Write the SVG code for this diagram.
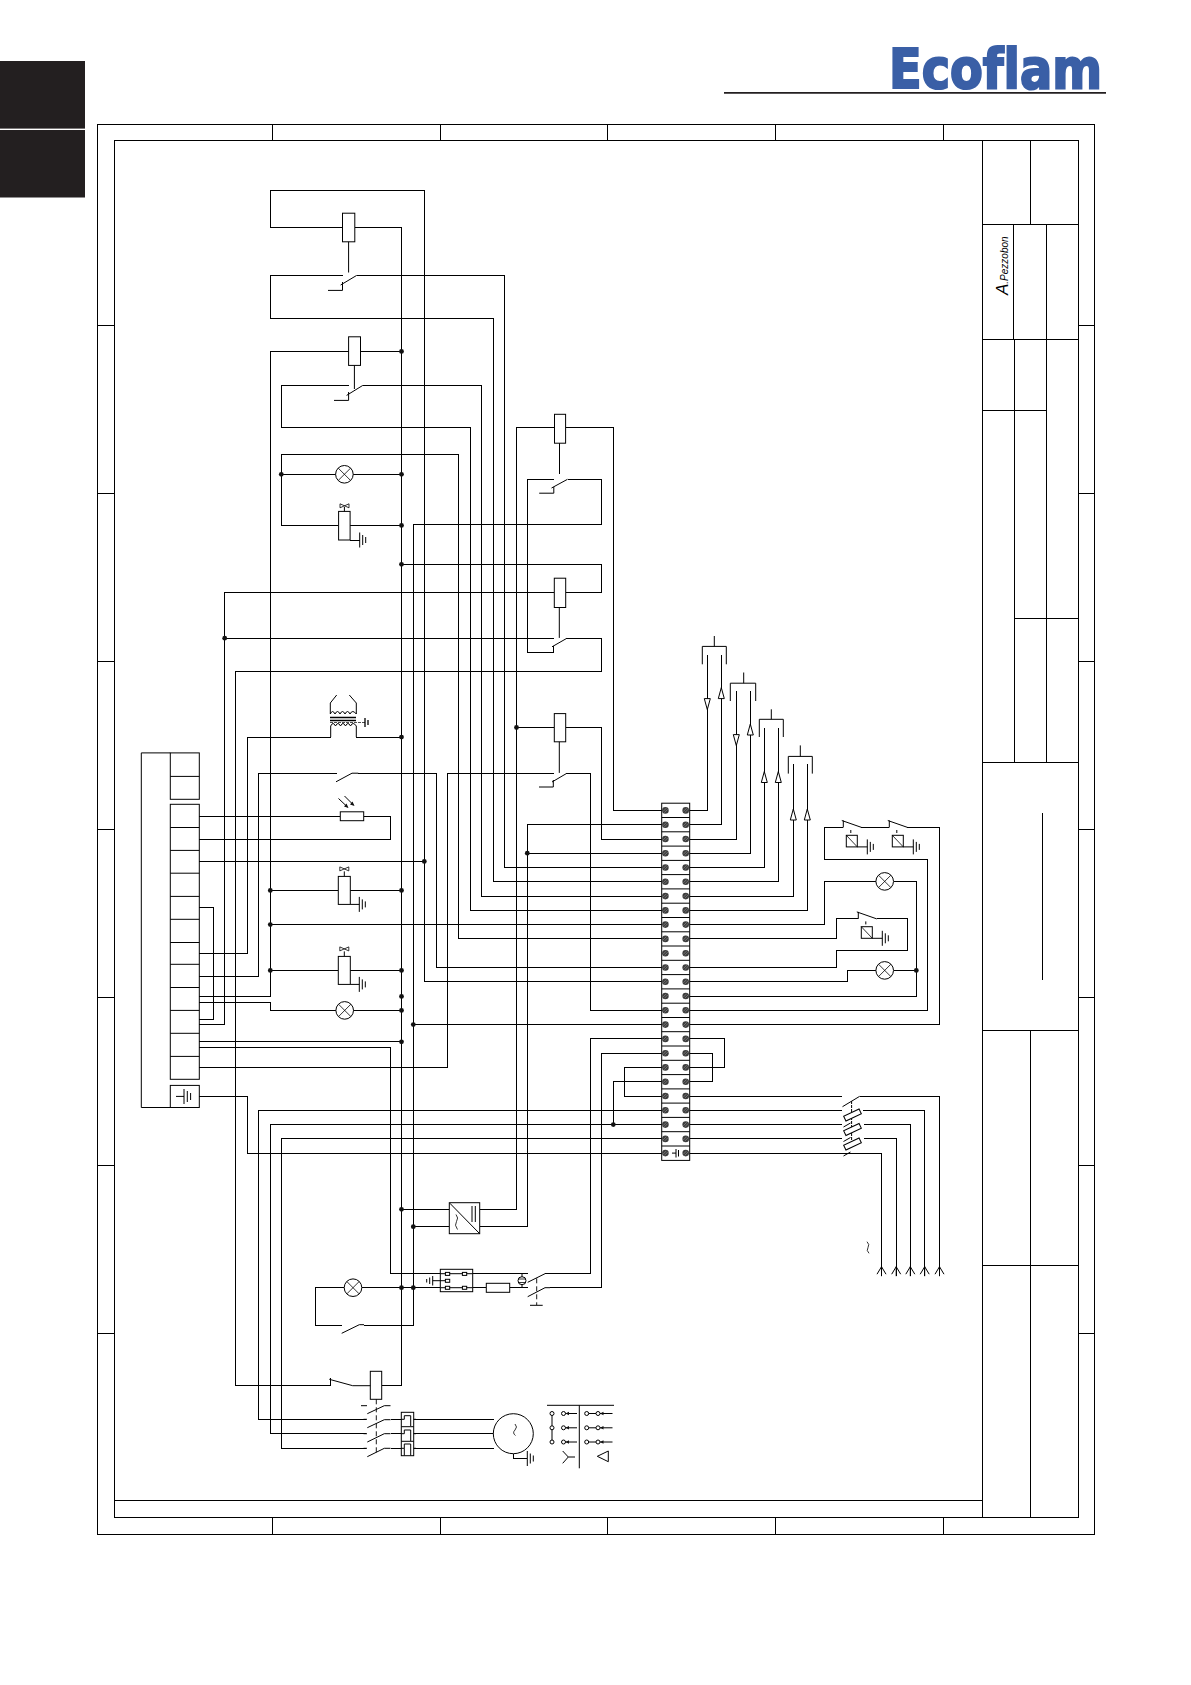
<svg xmlns="http://www.w3.org/2000/svg" xmlns:xlink="http://www.w3.org/1999/xlink" width="1191" height="1685" viewBox="0 0 1191 1685">
<style>
text{font-family:"Liberation Sans",Arial,sans-serif}
.l,.w,.s{fill:none;stroke:#000;stroke-width:1}
.w{stroke-width:1;shape-rendering:crispEdges}
.f{stroke:#000;stroke-width:1;fill:none;shape-rendering:crispEdges}
.t{stroke:#000;stroke-width:.8;fill:none}
.b{fill:#fff;stroke:#000;stroke-width:1}
.d{fill:#111;stroke:none}
.dash{fill:none;stroke:#000;stroke-width:.9;stroke-dasharray:5 3}
</style>
<defs>
<circle id="dot" class="d" r="2.4"/>
<g id="lamp"><circle class="b" r="8.8"/><path class="t" d="M-6.200-6.200 6.200 6.200M-6.200 6.200 6.200-6.200"/></g>
<g id="gnd"><path class="s" d="M0-7.500V7.500M3-5V5M6-3V3"/></g>
<g id="screw"><circle r="3.300" fill="#3c3c3c"/><path d="M-2.300 1 1-2.300M-1 2.300 2.300-1" stroke="#aaa" stroke-width=".5"/></g>
<g id="valve"><path class="s" d="M0 0V-5"/><path class="t" d="M-4.500-9.500 4.500-5.500V-9.500L-4.500-5.500Z"/><rect class="b" x="-6" y="0" width="12" height="28"/><path class="s" d="M6 28H15"/><use xlink:href="#gnd" x="15" y="28"/></g>
<g id="coilx"><rect class="b" width="11" height="11.600"/><path class="t" d="M0 0 11 11.600"/></g>
<g id="sw"><path class="s" d="M0 0V-7M-1.500-7 18.500 0"/><path class="s" d="M7.500 2.500V7.500" stroke-dasharray="3 2"/><use xlink:href="#coilx" x="3" y="7.800"/><path class="s" d="M14 19.400H24"/><use xlink:href="#gnd" x="24" y="19.400"/></g>
<path id="ch" class="s" d="M-4.500 7.500 0 0 4.500 7.500M0 0V9.500"/>
<path id="tri" class="b" d="M-3 0H3L0-11Z"/>
<g id="fuse"><path class="s" d="M-9 12-2 8"/><rect class="b" x="-8.500" y="-2.700" width="17" height="5.400" transform="rotate(-25)"/></g>
</defs>

<g id="tabs"><rect x="0" y="61" width="85" height="67.600" fill="#231f20"/><rect x="0" y="130" width="85" height="67.500" fill="#231f20"/></g>
<g id="logo"><text x="889" y="88" font-size="55" font-weight="700" fill="#3a5fa6" stroke="#3a5fa6" stroke-width="2.200" textLength="213" lengthAdjust="spacingAndGlyphs" style="font-family:'DejaVu Sans','Liberation Sans',sans-serif;font-variant-ligatures:none">Ecoflam</text><path d="M724 92.900H1106" stroke="#231f20" stroke-width="1.600" fill="none"/></g>

<g id="frame" class="f">
<rect x="97.300" y="124.300" width="997" height="1410"/>
<rect x="114.400" y="140.400" width="964" height="1377"/>
<path d="M272.500 124V140.500M440 124V140.500M607.500 124V140.500M775.300 124V140.500M943.300 124V140.500M272.500 1517.500V1534.500M440 1517.500V1534.500M607.500 1517.500V1534.500M775.300 1517.500V1534.500M943.300 1517.500V1534.500"/>
<path d="M97 325.400H114.500M97 493.200H114.500M97 661H114.500M97 829H114.500M97 997H114.500M97 1165H114.500M97 1333H114.500M1078 325.400H1094.500M1078 493.200H1094.500M1078 661H1094.500M1078 829H1094.500M1078 997H1094.500M1078 1165H1094.500M1078 1333H1094.500"/>
<path d="M114.400 1500.300H982.500"/>
</g>
<g id="title-block" class="f">
<path d="M982.500 140.400V1517.500M1030.400 140.400V224.300M982.500 224.300H1078.300M1013.700 224.300V339.300M1046.300 224.300V762.300M982.500 339.300H1078.300M1014.300 339.300V762.300M982.500 410.400H1046.300M1014.300 618.300H1078.300M982.500 762.300H1078.300M1042.300 812.700V979.700M982.500 1030.300H1078.300M1030.400 1030.300V1517.500M982.500 1265.300H1078.300"/>
</g>
<text id="signature" transform="translate(1008 295) rotate(-90)" font-style="italic" fill="#000"><tspan font-size="17">A</tspan><tspan font-size="10">.Pezzobon</tspan></text>

<g id="connectors" class="w">
<path d="M342.500 227.500H270.600V190.400H424.300V981.800H665"/>
<path d="M354.800 227.500H401.500V1385.300H381.700"/>
<path d="M342.500 275.400H270.600V318.200H493.500V881.800H665"/>
<path d="M356.700 275.400H504.500V867.500H665"/>
<path d="M348.600 351.400H270.300V996.400H199.300"/>
<path d="M360.500 351.400H401.500"/>
<path d="M348.600 385.400H281.300V427.500H470.500V910.400H665"/>
<path d="M362.800 385.400H481.500V896.100H665"/>
<path d="M665 938.900H458.600V454.300H281.300V525.400H338.400"/>
<path d="M281.300 474.300H335.600M353.200 474.300H401.500M350.400 525.400H401.500"/>
<path d="M554.500 427.900H516.500V1209.300H479.700"/>
<path d="M565.600 427.900H613.300V810.400H665"/>
<path d="M553.800 479.300H527.400V652.100H553.300V645.700"/>
<path d="M567.500 479.300H601.500V524.300H413.300V1325.300H364"/>
<path d="M413.300 1024.600H665"/>
<path d="M554.300 592.500H224.700V1024.300H199.300"/>
<path d="M565.700 592.500H601.300V564.300H401.500"/>
<path d="M224.700 638.200H554.300"/>
<path d="M567 638.200H601V671.400H235.700V1385.300H330.300V1378.300"/>
<path d="M554.300 727.500H516.500"/>
<path d="M565.700 727.500H601.700V839H665"/>
<path d="M199.300 1067.100H447.300V773.200H553.500"/>
<path d="M567 773.200H590.700V1010.300H665"/>
<path d="M665 824.700H527.300V1226.700H479.700M527.300 853.200H665"/>
<path d="M199.300 976.400H258.300V773.200H336.700"/>
<path d="M358.300 773.200H436.300V967.500H665"/>
<path d="M199.300 953.200H247.300V737.100H330.700M356.300 737.100H401.500"/>
<path d="M199.300 816.400H340.300M363.700 816.400H390.300V839.300H199.300"/>
<path d="M199.300 861.400H424.300"/>
<path d="M270.300 890.400H338.300M350.300 890.400H401.500M270.300 924.600H665M270.300 970.400H338.300M350.300 970.400H401.500"/>
<path d="M199.300 1002.500H270.300V1010.400H336M353.400 1010.400H401.500"/>
<path d="M199.300 1041.800H401.500"/>
<path d="M199.300 1047.500H390.700V1273.700H528.300"/>
<path d="M199.300 907.500H213.300V1019.300H199.300"/>
<path d="M199.300 1096.400H247.700V1153.100H665"/>
<path d="M665 1110.300H258.700V1419.300H366"/>
<path d="M665 1124.600H270.300V1433.700H366"/>
<path d="M665 1138.900H281.700V1448.300H366"/>
<path d="M665 1038.900H590.700V1273.700H545"/>
<path d="M665 1053.200H601.700V1287.700H550"/>
<path d="M665 1067.400H624.300V1096H665"/>
<path d="M665 1081.700H613.300V1124.600"/>
<path d="M449.300 1209.300H401.500M449.300 1226.700H413.300"/>
<path d="M440.300 1287.700H362M344.200 1287.700H315.700V1325.300H341.700"/>
<path d="M472.700 1287.700H486.300M509.700 1287.700H528.300"/>
<path d="M685.700 810.400H707.300V655M685.700 824.700H721.300V655M685.700 839H736.300V691.400M685.700 853.200H750.300V691.400M685.700 867.500H764.300V727.900M685.700 881.800H778.300V727.900M685.700 896.100H793.300V764.300M685.700 910.400H807.300V764.300"/>
<path d="M685.700 924.600H824.300V881.400H876M893.500 881.400H916.300V996H685.700"/>
<path d="M685.700 938.900H836.300V918.900H858.300M876.700 918.900H907.300V950.400H836.300V967.500H685.700"/>
<path d="M685.700 981.800H847.300V970.400H876M893.500 970.400H916.300"/>
<path d="M685.700 1010.300H927.300V859.300H824.300V827.500H843.300M860.700 827.500H889.300M906.700 827.500H939.300V1024.600H685.700"/>
<path d="M685.700 1038.900H724.300V1067.400H685.700M685.700 1053.200H712.300V1081.700H685.700"/>
<path d="M685.700 1096H841.700M860 1096H939.500V1276M685.700 1110.300H841.700M863 1110.300H924.700V1276M685.700 1124.600H841.700M864 1124.600H910.300V1276M685.700 1138.900H841.700M864 1138.900H896.200V1276M685.700 1153.100H881.500V1276"/>
<path d="M390.500 1419.300H494M390.500 1433.700H494M390.500 1448.300H494"/>
<path d="M513.300 1453.700V1458.500H527.300"/>
<path d="M350.400 540H359.700"/>
</g>

<g id="junctions">
<use xlink:href="#dot" x="401.500" y="351.400"/><use xlink:href="#dot" x="401.500" y="474.300"/><use xlink:href="#dot" x="401.500" y="525.400"/><use xlink:href="#dot" x="401.500" y="564.300"/><use xlink:href="#dot" x="401.500" y="737.100"/><use xlink:href="#dot" x="401.500" y="890.400"/><use xlink:href="#dot" x="401.500" y="970.400"/><use xlink:href="#dot" x="401.500" y="996.400"/><use xlink:href="#dot" x="401.500" y="1010.400"/><use xlink:href="#dot" x="401.500" y="1041.800"/><use xlink:href="#dot" x="401.500" y="1209.300"/><use xlink:href="#dot" x="401.500" y="1287.700"/>
<use xlink:href="#dot" x="281.300" y="474.300"/><use xlink:href="#dot" x="224.700" y="638.200"/><use xlink:href="#dot" x="516.500" y="727.500"/><use xlink:href="#dot" x="527.300" y="853.200"/><use xlink:href="#dot" x="424.300" y="861.400"/>
<use xlink:href="#dot" x="270.300" y="890.400"/><use xlink:href="#dot" x="270.300" y="924.600"/><use xlink:href="#dot" x="270.300" y="970.400"/>
<use xlink:href="#dot" x="413.300" y="1024.600"/><use xlink:href="#dot" x="413.300" y="1226.700"/><use xlink:href="#dot" x="413.300" y="1287.700"/><use xlink:href="#dot" x="916.300" y="970.400"/><use xlink:href="#dot" x="613.300" y="1124.600"/>
</g>

<g id="relay-1"><rect class="b" x="342.500" y="213.200" width="12.300" height="28.600"/><path class="s" d="M348.600 241.800V272.500"/><path class="s" d="M328 290.400H342.500V282M340.600 285 356.700 275.400"/></g>
<g id="relay-2"><rect class="b" x="348.600" y="336.800" width="11.900" height="28.600"/><path class="s" d="M354.400 365.400V389"/><path class="s" d="M334 400.400H348.600V392M346.600 395.400 362.800 385.400"/></g>
<g id="lamp-1"><use xlink:href="#lamp" x="344.400" y="474.300"/></g>
<g id="valve-1"><rect class="b" x="338.600" y="511.400" width="11.500" height="28.600"/><path class="s" d="M344.400 511.400V507"/><path class="t" d="M340 503.800 349 507.800V503.800L340 507.800Z"/><use xlink:href="#gnd" x="359.700" y="540"/></g>
<g id="relay-3"><rect class="b" x="554.500" y="414.300" width="11.100" height="28.900"/><path class="s" d="M559.500 443.200V474"/><path class="s" d="M539.200 493.200H553.800V487M551.500 488 567.500 479.300"/></g>
<g id="relay-4"><rect class="b" x="554.300" y="578.200" width="11.400" height="29.300"/><path class="s" d="M559.300 607.500V637.900"/><path class="s" d="M552 646.800 567 638.200"/></g>
<g id="relay-5"><rect class="b" x="554.300" y="713.600" width="11.400" height="28.200"/><path class="s" d="M559.300 741.800V772.900"/><path class="s" d="M539 787H553.300V780M552 782 567 773.200"/></g>
<g id="transformer" class="s">
<path d="M336.700 695 330.300 703V714M349.300 695 356.300 703V714"/>
<path d="M330.300 714Q332.500 709 335 714Q337.500 709 340 714Q342.500 709 345 714Q347.500 709 350 714Q352.500 709 356.300 714"/>
<path d="M330 717.500H356M330 720.500H356" stroke-width="1.300"/>
<path d="M330 722.500H365" stroke-width=".7" stroke-dasharray="3 1"/>
<path d="M330.700 737V726Q333 721 335.500 726Q338 721 340.500 726Q343 721 345.500 726Q348 721 350.500 726Q353 721 356.300 726V737"/>
<path d="M365 718V727M368 720V725" stroke-width="1.300"/>
</g>
<g id="contact-6"><path class="s" d="M336 781.800 352 773.200H358.300"/></g>
<g id="photocell"><rect class="b" x="340.300" y="811.800" width="23.400" height="8.900"/><path class="s" d="M338.500 798.500 347.500 807M344.500 796 353.500 805"/><path class="d" d="M348.500 808 344 806.500 346.500 803.500ZM354.500 806 350 804.500 352.500 801.500Z"/></g>
<g id="valve-2"><use xlink:href="#valve" x="344.300" y="876.400"/></g>
<g id="valve-3"><use xlink:href="#valve" x="344.300" y="956.400"/></g>
<g id="lamp-2"><use xlink:href="#lamp" x="344.700" y="1010.400"/></g>
<g id="lamp-3"><use xlink:href="#lamp" x="353" y="1287.700"/></g>
<g id="contact-7"><path class="s" d="M341.700 1333.300 359.300 1324.700H364"/></g>

<g id="connector-panel" class="s">
<path d="M170.300 752.900H141.300V1107.500H170.300"/>
<rect x="170.300" y="752.900" width="29" height="46.400"/><path d="M170.300 776.400H199.300"/>
<rect x="170.300" y="804.300" width="29" height="275"/>
<path d="M170.300 827.500H199.300M170.300 850.400H199.300M170.300 873.200H199.300M170.300 896.400H199.300M170.300 919.300H199.300M170.300 942.500H199.300M170.300 964.300H199.300M170.300 987.500H199.300M170.300 1010.400H199.300M170.300 1033.300H199.300M170.300 1056.400H199.300"/>
<rect x="170.300" y="1085.400" width="29" height="22.100"/>
<path d="M176 1096.400H184M184 1089V1104M187.300 1091V1102M190.600 1093V1100"/>
</g>

<g id="terminal-block">
<rect class="b" x="661.700" y="803.200" width="28" height="357.200"/>
<path class="s" d="M661.700 817.500H689.700M661.700 831.800H689.700M661.700 846.100H689.700M661.700 860.400H689.700M661.700 874.600H689.700M661.700 888.900H689.700M661.700 903.200H689.700M661.700 917.500H689.700M661.700 946H689.700M661.700 960.300H689.700M661.700 974.600H689.700M661.700 988.900H689.700M661.700 1003.200H689.700M661.700 1017.500H689.700M661.700 1031.700H689.700M661.700 1046H689.700M661.700 1060.300H689.700M661.700 1074.600H689.700M661.700 1088.900H689.700M661.700 1103.100H689.700M661.700 1117.400H689.700M661.700 1131.700H689.700M661.700 1146H689.700"/>
<path class="s" stroke-width="1.600" d="M661.700 931.800H689.700"/>
<g id="screws">
<use xlink:href="#screw" x="665.400" y="810.400"/><use xlink:href="#screw" x="685.700" y="810.400"/><use xlink:href="#screw" x="665.400" y="824.700"/><use xlink:href="#screw" x="685.700" y="824.700"/><use xlink:href="#screw" x="665.400" y="839"/><use xlink:href="#screw" x="685.700" y="839"/><use xlink:href="#screw" x="665.400" y="853.200"/><use xlink:href="#screw" x="685.700" y="853.200"/><use xlink:href="#screw" x="665.400" y="867.500"/><use xlink:href="#screw" x="685.700" y="867.500"/><use xlink:href="#screw" x="665.400" y="881.800"/><use xlink:href="#screw" x="685.700" y="881.800"/><use xlink:href="#screw" x="665.400" y="896.100"/><use xlink:href="#screw" x="685.700" y="896.100"/><use xlink:href="#screw" x="665.400" y="910.400"/><use xlink:href="#screw" x="685.700" y="910.400"/><use xlink:href="#screw" x="665.400" y="924.600"/><use xlink:href="#screw" x="685.700" y="924.600"/><use xlink:href="#screw" x="665.400" y="938.900"/><use xlink:href="#screw" x="685.700" y="938.900"/><use xlink:href="#screw" x="665.400" y="953.200"/><use xlink:href="#screw" x="685.700" y="953.200"/><use xlink:href="#screw" x="665.400" y="967.500"/><use xlink:href="#screw" x="685.700" y="967.500"/><use xlink:href="#screw" x="665.400" y="981.800"/><use xlink:href="#screw" x="685.700" y="981.800"/><use xlink:href="#screw" x="665.400" y="996"/><use xlink:href="#screw" x="685.700" y="996"/><use xlink:href="#screw" x="665.400" y="1010.300"/><use xlink:href="#screw" x="685.700" y="1010.300"/><use xlink:href="#screw" x="665.400" y="1024.600"/><use xlink:href="#screw" x="685.700" y="1024.600"/><use xlink:href="#screw" x="665.400" y="1038.900"/><use xlink:href="#screw" x="685.700" y="1038.900"/><use xlink:href="#screw" x="665.400" y="1053.200"/><use xlink:href="#screw" x="685.700" y="1053.200"/><use xlink:href="#screw" x="665.400" y="1067.400"/><use xlink:href="#screw" x="685.700" y="1067.400"/><use xlink:href="#screw" x="665.400" y="1081.700"/><use xlink:href="#screw" x="685.700" y="1081.700"/><use xlink:href="#screw" x="665.400" y="1096"/><use xlink:href="#screw" x="685.700" y="1096"/><use xlink:href="#screw" x="665.400" y="1110.300"/><use xlink:href="#screw" x="685.700" y="1110.300"/><use xlink:href="#screw" x="665.400" y="1124.600"/><use xlink:href="#screw" x="685.700" y="1124.600"/><use xlink:href="#screw" x="665.400" y="1138.900"/><use xlink:href="#screw" x="685.700" y="1138.900"/><use xlink:href="#screw" x="665.400" y="1153.100"/><use xlink:href="#screw" x="685.700" y="1153.100"/>
</g>
<path class="s" d="M672 1153.100H676M676 1149V1157.500M678.500 1150V1156.500" stroke-width="1.100"/>
</g>

<g id="probe-1"><path class="s" d="M714.300 636V646.400M702.300 664.300V646.400H726.300V664.300"/><use xlink:href="#tri" transform="translate(707.300 688) rotate(180)" y="-10.600"/><use xlink:href="#tri" x="721.300" y="698.600"/></g>
<g id="probe-2"><path class="s" d="M743.700 672.500V683.200M730.300 701V683.200H755.700V701"/><use xlink:href="#tri" transform="translate(736.300 723.600) rotate(180)" y="-11"/><use xlink:href="#tri" x="750.300" y="735"/></g>
<g id="probe-3"><path class="s" d="M771.300 709.300V719.300M759.300 737V719.300H783.300V737"/><use xlink:href="#tri" x="764.300" y="782.500"/><use xlink:href="#tri" x="778.300" y="782.500"/></g>
<g id="probe-4"><path class="s" d="M800.300 745.400V756.400M788.300 773.600V756.400H812.300V773.600"/><use xlink:href="#tri" x="793.300" y="820"/><use xlink:href="#tri" x="807.300" y="820"/></g>

<g id="switch-1"><use xlink:href="#sw" x="843.300" y="827.500"/></g>
<g id="switch-2"><use xlink:href="#sw" x="889.300" y="827.500"/></g>
<g id="switch-3"><use xlink:href="#sw" x="858.300" y="918.900"/></g>
<g id="lamp-4"><use xlink:href="#lamp" x="884.700" y="881.400"/></g>
<g id="lamp-5"><use xlink:href="#lamp" x="884.700" y="970.400"/></g>

<g id="main-switch"><path class="s" d="M842.500 1106.700 859.700 1096.300"/><path class="s" d="M851.600 1101V1141" stroke-dasharray="3 1"/>
<use xlink:href="#fuse" x="852.500" y="1115"/><use xlink:href="#fuse" x="852.500" y="1129.500"/><use xlink:href="#fuse" x="852.500" y="1144"/></g>
<g id="supply"><use xlink:href="#ch" x="881.500" y="1266.700"/><use xlink:href="#ch" x="896.200" y="1266.700"/><use xlink:href="#ch" x="910.300" y="1266.700"/><use xlink:href="#ch" x="924.700" y="1266.700"/><use xlink:href="#ch" x="939.500" y="1266.700"/><path class="t" d="M867 1241.700Q870 1244.500 868 1247.500Q866 1250.500 869 1253.300"/></g>

<g id="converter"><rect class="b" x="449.300" y="1202.700" width="30.400" height="31"/><path class="s" d="M449.800 1203.200 479.200 1233.200M472 1206V1222M475.300 1206V1222"/><path class="t" d="M456 1214.500Q459 1218 456.500 1221.500Q454 1225 457.500 1229.500"/></g>
<g id="flame-relay"><rect class="b" x="440.300" y="1269.300" width="32.400" height="22.400"/><path class="s" d="M440.300 1273.700H472.700M440.300 1287.700H472.700M445 1280.700H432.700M432.700 1276V1285.500M429.700 1277.500V1284M426.700 1279V1282.500"/>
<rect class="b" x="445.400" y="1272.400" width="4.300" height="3"/><rect class="b" x="445.400" y="1279.300" width="4.300" height="3"/><rect class="b" x="445.400" y="1286.300" width="4.300" height="3"/><rect class="b" x="462.400" y="1272.400" width="4.300" height="3"/><rect class="b" x="462.400" y="1286.300" width="4.300" height="3"/></g>
<g id="fuse-main"><rect class="b" x="486.300" y="1283.300" width="23.400" height="9"/></g>
<g id="isolator"><path class="s" d="M522 1273.700V1287.700"/><circle class="b" cx="522" cy="1280.700" r="4"/><path class="t" d="M518 1279H526M518 1282.500H526"/><path class="s" d="M527.700 1282.300 545 1273.700M527.700 1296.700 545 1287.700H550"/><path class="dash" d="M536.700 1278.300V1305"/><path class="s" d="M530 1305.300H542.700"/></g>

<g id="contactor"><rect class="b" x="370.300" y="1371.300" width="11.400" height="28"/><path class="s" d="M329.300 1379.300 352.700 1385.700H370.300"/><path class="dash" d="M376.300 1399.300V1453"/>
<path class="s" d="M367.300 1413.700 384.300 1405.700H390.500M367.300 1427.700 384.300 1419.700H390.500M367.300 1442 384.300 1433.700H390.500M367.300 1456.700 384.300 1448.300H390.500"/>
<path class="s" d="M361 1405.700H367M363.500 1419.300H367M363.500 1433.700H367M363.500 1448.300H367" stroke-width="1.300"/></g>
<g id="overload"><rect class="b" x="401.300" y="1412.300" width="12.400" height="43.400"/><path class="s" d="M401.300 1426.700H413.700M401.300 1441.300H413.700M401.300 1419.300H404.300V1415.700H410.700V1426M401.300 1433.700H404.300V1430H410.700V1441M401.300 1448.300H404.300V1444H410.700V1455.500M404.300 1448.300V1455.500M413.700 1419.300H416M413.700 1433.700H416M413.700 1448.300H416"/></g>
<g id="motor"><circle class="b" cx="513.300" cy="1433.700" r="20"/><path class="t" d="M515 1424Q518 1427 515 1430Q512 1433 515.500 1435.500"/><use xlink:href="#gnd" x="527.300" y="1458.500"/></g>
<g id="star-delta" class="s">
<path d="M547 1405.300H614M579.300 1405.300V1468.300M552 1413.500V1442"/>
<g fill="#fff"><circle cx="552" cy="1413.500" r="2"/><circle cx="552" cy="1427.800" r="2"/><circle cx="552" cy="1442" r="2"/><circle cx="563.500" cy="1413.500" r="2"/><circle cx="563.500" cy="1427.800" r="2"/><circle cx="563.500" cy="1442" r="2"/><circle cx="586.700" cy="1413.500" r="2"/><circle cx="586.700" cy="1427.800" r="2"/><circle cx="586.700" cy="1442" r="2"/><circle cx="598" cy="1413.500" r="2"/><circle cx="598" cy="1427.800" r="2"/><circle cx="598" cy="1442" r="2"/></g>
<path d="M565.500 1413.500H577M565.500 1427.800H577M565.500 1442H577M588.700 1413.500H596M588.700 1427.800H596M588.700 1442H596M600 1413.500H612.500M600 1427.800H612.500M600 1442H612.500"/>
<path class="d" d="M565.500 1413.500 569 1411.700V1415.300ZM565.500 1427.800 569 1426V1429.600ZM565.500 1442 569 1440.200V1443.800ZM600 1413.500 603.500 1411.700V1415.300ZM600 1427.800 603.500 1426V1429.600ZM600 1442 603.500 1440.200V1443.800Z"/>
<path d="M562.700 1451 568.300 1457 562.700 1463.300M568.300 1457H575"/><path d="M608.300 1451V1461.700L597.300 1456.300Z"/>
</g>
</svg>
